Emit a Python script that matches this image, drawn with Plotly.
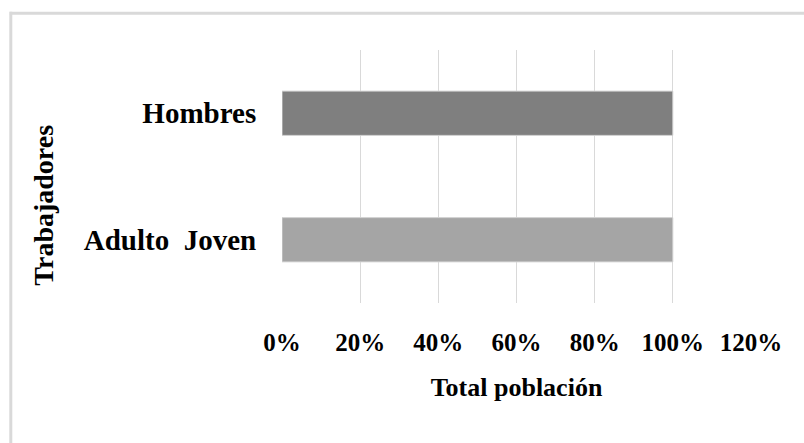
import plotly.graph_objects as go

# Data
categories = ["Adulto  Joven", "Hombres"]
values = [1.0, 1.0]
bar_colors = ["#a5a5a5", "#7f7f7f"]
tick_vals = [0, 0.2, 0.4, 0.6, 0.8, 1.0, 1.2]
tick_text = ["0%", "20%", "40%", "60%", "80%", "100%", "120%"]
x_title = "Total población"
y_title = "Trabajadores"

W, H = 804, 443
ML, MR, MT, MB = 281.5, 53, 49.5, 139.5
PW, PH = W - ML - MR, H - MT - MB

def px_to_paper_x(px):
    return (px - ML) / PW

def px_to_paper_y(py):
    return (H - MB - py) / PH

FONT = "Liberation Serif"

fig = go.Figure(
    go.Bar(
        y=categories,
        x=values,
        orientation="h",
        marker=dict(color=bar_colors, line=dict(color="#d4d4d4", width=1)),
        width=0.35,
        hoverinfo="skip",
    )
)

fig.update_layout(
    width=W,
    height=H,
    margin=dict(l=ML, r=MR, t=MT, b=MB, pad=0),
    paper_bgcolor="white",
    plot_bgcolor="white",
    showlegend=False,
    font=dict(family=FONT, color="black", weight="bold"),
    xaxis=dict(
        range=[0, 1.2],
        tickvals=tick_vals,
        ticktext=tick_text,
        showgrid=True,
        gridcolor="#d9d9d9",
        gridwidth=1,
        zeroline=False,
        showline=False,
        ticks="outside",
        ticklen=17,
        tickcolor="rgba(0,0,0,0)",
        tickfont=dict(family=FONT, size=25, color="black", weight="bold"),
        title=dict(
            text=x_title,
            font=dict(family=FONT, size=26, color="black", weight="bold"),
            standoff=22,
        ),
        fixedrange=True,
    ),
    yaxis=dict(
        range=[-0.5, 1.5],
        showgrid=False,
        zeroline=False,
        showline=False,
        ticks="outside",
        ticklen=19,
        tickcolor="rgba(0,0,0,0)",
        tickfont=dict(family=FONT, size=29, color="black", weight="bold"),
        fixedrange=True,
    ),
    annotations=[
        dict(
            text=y_title,
            xref="paper",
            yref="paper",
            x=px_to_paper_x(43),
            y=px_to_paper_y(205),
            xanchor="center",
            yanchor="middle",
            textangle=-90,
            showarrow=False,
            font=dict(family=FONT, size=28, color="black", weight="bold"),
        )
    ],
    shapes=[
        # outer frame: top edge and left edge
        dict(
            type="line",
            xref="paper",
            yref="paper",
            x0=px_to_paper_x(9),
            x1=px_to_paper_x(W + 5),
            y0=px_to_paper_y(12.5),
            y1=px_to_paper_y(12.5),
            line=dict(color="#d9d9d9", width=3),
            layer="below",
        ),
        dict(
            type="line",
            xref="paper",
            yref="paper",
            x0=px_to_paper_x(10),
            x1=px_to_paper_x(10),
            y0=px_to_paper_y(11),
            y1=px_to_paper_y(H + 5),
            line=dict(color="#d9d9d9", width=3),
            layer="below",
        ),
    ],
)

fig.write_html("out.html", config={"displayModeBar": False})
